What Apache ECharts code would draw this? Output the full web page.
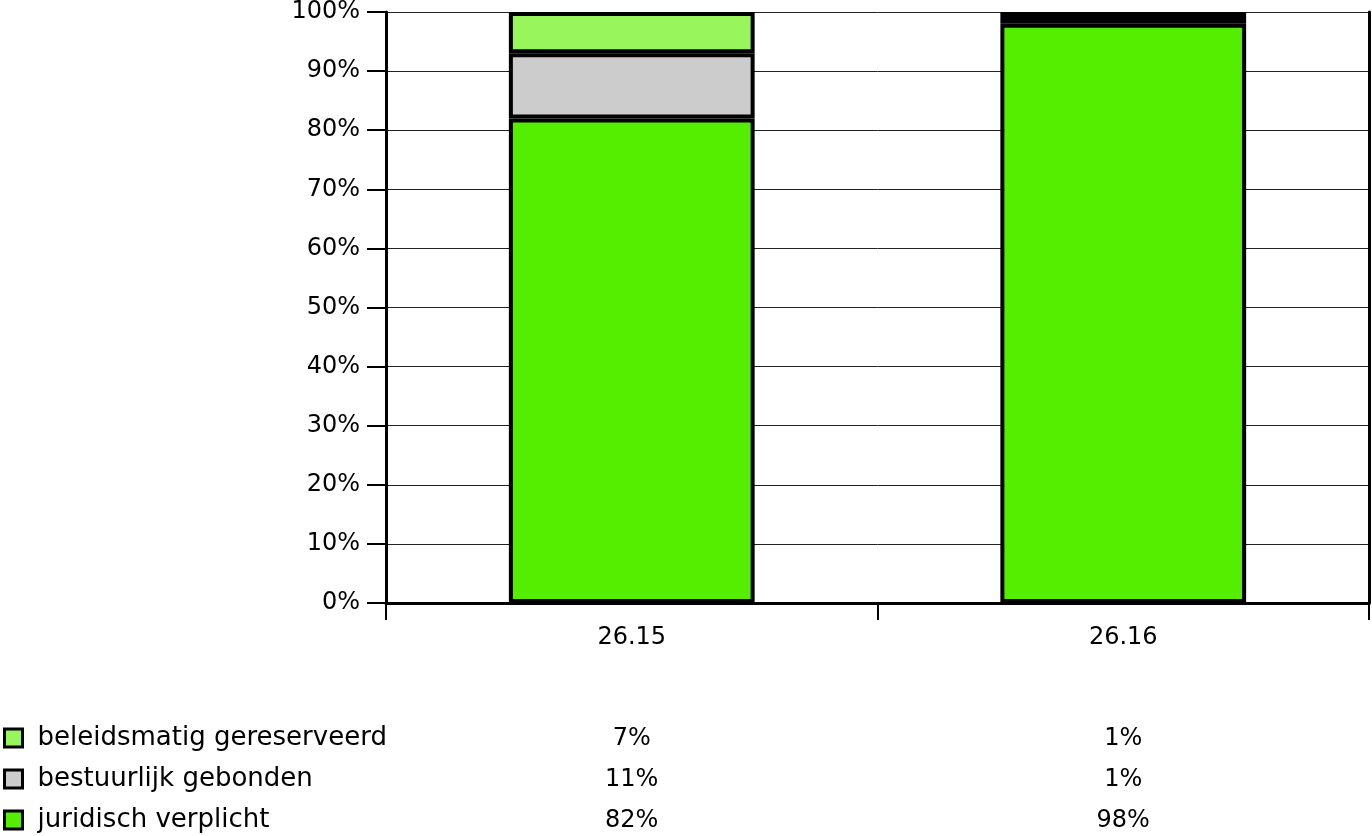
<!DOCTYPE html>
<html>
<head>
<meta charset="utf-8">
<script src="https://cdn.jsdelivr.net/npm/echarts@6/dist/echarts.min.js"></script>
<style>html,body{margin:0;padding:0;background:#fff;}#c{width:1372px;height:836px;}</style>
</head>
<body>
<div id="c"></div>
<script>
const categories = ['26.15', '26.16'];
const juridisch = [82, 98];
const bestuurlijk = [11, 1];
const beleidsmatig = [7, 1];
const seriesNames = ['beleidsmatig gereserveerd', 'bestuurlijk gebonden', 'juridisch verplicht'];
const yTicks = { min: 0, max: 100, interval: 10 };

const FONT = 'DejaVu Sans';
const chart = echarts.init(document.getElementById('c'), null, { renderer: 'canvas' });

const tableLabels = categories.map((c, i) =>
  [beleidsmatig[i], bestuurlijk[i], juridisch[i]].map(v => v + '%').join('\n'));

const barStyle = (color) => ({ color: color, borderColor: '#000', borderWidth: 4 });

chart.setOption({
  animation: false,
  grid: { left: 386, right: 3, top: 12, bottom: 233, containLabel: false, outerBoundsMode: 'none' },
  legend: {
    orient: 'vertical',
    left: 3,
    top: 725,
    padding: 0,
    itemWidth: 18,
    itemHeight: 18,
    itemGap: 15,
    icon: 'rect',
    data: seriesNames,
    itemStyle: { borderColor: '#000', borderWidth: 3 },
    textStyle: { fontFamily: FONT, fontSize: 26, color: '#000', lineHeight: 26, padding: [0, 0, 0, 10] }
  },
  xAxis: [
    {
      type: 'category',
      data: categories,
      boundaryGap: true,
      axisLine: { lineStyle: { color: '#000', width: 3 } },
      axisTick: { show: true, length: 17, lineStyle: { color: '#000', width: 2 } },
      axisLabel: { fontFamily: FONT, fontSize: 24, color: '#000', margin: 22, lineHeight: 26 }
    },
    {
      type: 'category',
      data: categories,
      position: 'bottom',
      axisLine: { show: false },
      axisTick: { show: false },
      axisLabel: {
        fontFamily: FONT, fontSize: 24, color: '#000', lineHeight: 41, margin: 115,
        formatter: (v, i) => tableLabels[i]
      }
    }
  ],
  yAxis: [
    {
      type: 'value',
      min: yTicks.min, max: yTicks.max, interval: yTicks.interval,
      axisLine: { show: true, lineStyle: { color: '#000', width: 3 } },
      axisTick: { show: true, length: 19, lineStyle: { color: '#000', width: 2 } },
      axisLabel: { fontFamily: FONT, fontSize: 24, color: '#000', margin: 26, formatter: '{value}%' },
      splitLine: { show: true, lineStyle: { color: '#222', width: 1 } }
    },
    {
      type: 'value',
      position: 'right',
      min: yTicks.min, max: yTicks.max, interval: yTicks.interval,
      axisLine: { show: true, lineStyle: { color: '#000', width: 3 } },
      axisTick: { show: false },
      axisLabel: { show: false },
      splitLine: { show: false }
    }
  ],
  series: [
    { name: seriesNames[2], type: 'bar', stack: 's', barWidth: '50%', data: juridisch, itemStyle: barStyle('#55ee00') },
    { name: seriesNames[1], type: 'bar', stack: 's', barWidth: '50%', data: bestuurlijk, itemStyle: barStyle('#cccccc') },
    { name: seriesNames[0], type: 'bar', stack: 's', barWidth: '50%', data: beleidsmatig, itemStyle: barStyle('#99f55c') }
  ]
});
</script>
</body>
</html>
